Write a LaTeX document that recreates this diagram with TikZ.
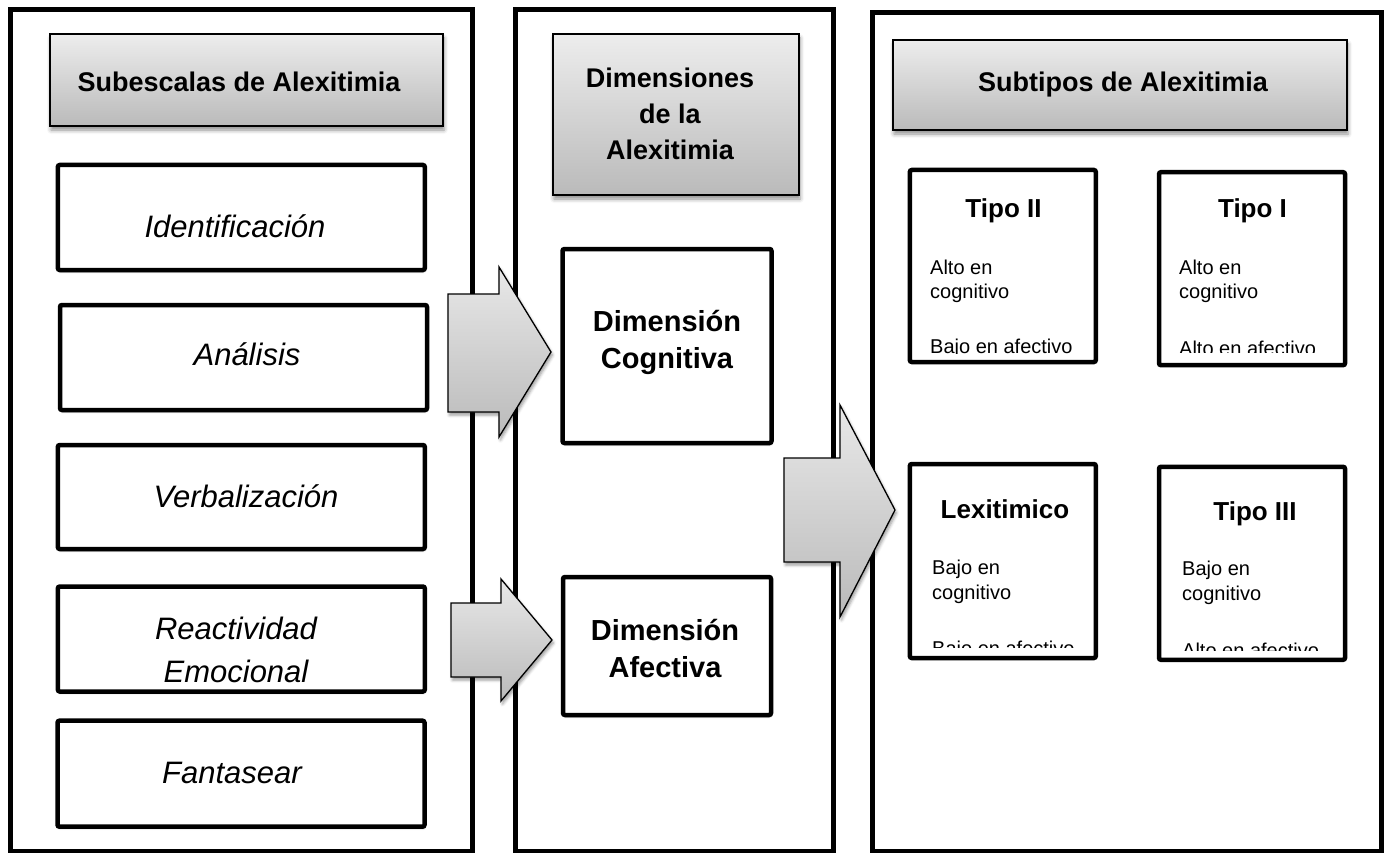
\documentclass[tikz,border=0pt]{standalone}
\usepackage{fontspec}
\setmainfont{Liberation Sans}
\usetikzlibrary{shadows.blur}

\tikzset{
  panel/.style={draw=black, line width=5pt, inner sep=0pt, outer sep=0pt},
  headbox/.style={draw=black, line width=1.2pt, inner sep=0pt, outer sep=0pt,
    top color=black!7, bottom color=black!27,
    blur shadow={shadow xshift=1pt, shadow yshift=-4pt, shadow blur radius=4pt, shadow opacity=45}},
  itembox/.style={draw=black, line width=4.5pt, rounded corners=2pt, inner sep=0pt, outer sep=0pt, fill=white,
    blur shadow={shadow xshift=0.5pt, shadow yshift=-2pt, shadow blur radius=1.5pt, shadow opacity=30}},
  typebox/.style={draw=black, line width=4.5pt, rounded corners=2pt, inner sep=0pt, outer sep=0pt},
  blockarrow/.style={draw=black, line width=1.3pt, line join=miter,
    top color=black!9, bottom color=black!27,
    blur shadow={shadow xshift=1.5pt, shadow yshift=-3pt, shadow blur radius=3pt, shadow opacity=40}},
  headtext/.style={inner sep=0pt, align=center, font=\fontsize{27}{36}\selectfont\bfseries},
  ittext/.style={inner sep=0pt, align=center, font=\fontsize{31}{43}\selectfont\itshape},
  dimtext/.style={inner sep=0pt, align=center, font=\fontsize{29}{37}\selectfont\bfseries},
  typetitle/.style={inner sep=0pt, anchor=base, font=\fontsize{26}{30}\selectfont\bfseries},
  typebody/.style={inner sep=0pt, anchor=base west, font=\fontsize{20}{24}\selectfont},
}

\begin{document}
\begin{tikzpicture}[x=1pt, y=-1pt]
\useasboundingbox (0,0) rectangle (1396,853);

% three column panels
\node[panel, minimum width=462pt, minimum height=841pt] (colA) at (241,430.5) {};
\node[panel, minimum width=318pt, minimum height=841pt] (colB) at (674,430.5) {};
\node[panel, minimum width=509pt, minimum height=838pt] (colC) at (1126.5,432) {};

% column headers
\node[headbox, minimum width=393pt, minimum height=92pt] (headA) at (246.5,80) {};
\node[headtext, anchor=base] (headAtxt) at (239,92) {Subescalas de Alexitimia};
\node[headbox, minimum width=246pt, minimum height=161pt] (headB) at (676,114.5) {};
\node[headtext] (headBtxt) at (670,114) {Dimensiones\\de la\\Alexitimia};
\node[headbox, minimum width=454pt, minimum height=90pt] (headC) at (1120,85) {};
\node[headtext, anchor=base] (headCtxt) at (1123,92) {Subtipos de Alexitimia};

% subscales
\node[itembox, minimum width=367pt, minimum height=105pt] (ident) at (241.3,217.5) {};
\node[ittext, anchor=base] (identtxt) at (235,237) {Identificación};
\node[itembox, minimum width=367pt, minimum height=105pt] (anal) at (243.5,357.5) {};
\node[ittext, anchor=base] (analtxt) at (247,365) {Análisis};
\node[itembox, minimum width=367pt, minimum height=104pt] (verb) at (241.3,497) {};
\node[ittext, anchor=base] (verbtxt) at (246,507) {Verbalización};
\node[itembox, minimum width=367pt, minimum height=105pt] (react) at (241.3,639) {};
\node[ittext] (reacttxt) at (236,650) {Reactividad\\Emocional};
\node[itembox, minimum width=367pt, minimum height=106pt] (fant) at (241,773.7) {};
\node[ittext, anchor=base] (fanttxt) at (232,783) {Fantasear};

% dimensions
\node[itembox, minimum width=209pt, minimum height=194pt] (cogn) at (667,346) {};
\node[dimtext] (cogntxt) at (667,342) {Dimensión\\Cognitiva};
\node[itembox, minimum width=208pt, minimum height=138pt] (afec) at (667,646) {};
\node[dimtext] (afectxt) at (665,648) {Dimensión\\Afectiva};

% subtypes: body text is cut off at the lower part of each box
\begin{scope}
  \clip (912,172) rectangle (1094,353);
  \node[typetitle] (t2title) at (1003.5,217) {Tipo II};
  \node[typebody] (t2a) at (930,274) {Alto en};
  \node[typebody] (t2b) at (930,298) {cognitivo};
  \node[typebody] (t2c) at (930,353) {Bajo en afectivo};
\end{scope}
\begin{scope}
  \clip (1161,174) rectangle (1343,352);
  \node[typetitle] (t1title) at (1252.5,217) {Tipo I};
  \node[typebody] (t1a) at (1179,274) {Alto en};
  \node[typebody] (t1b) at (1179,298) {cognitivo};
  \node[typebody] (t1c) at (1179,355) {Alto en afectivo};
\end{scope}
\begin{scope}
  \clip (912,466) rectangle (1094,647);
  \node[typetitle] (lxtitle) at (1005,518) {Lexitimico};
  \node[typebody] (lxa) at (932,574) {Bajo en};
  \node[typebody] (lxb) at (932,599) {cognitivo};
  \node[typebody] (lxc) at (932,655) {Bajo en afectivo};
\end{scope}
\begin{scope}
  \clip (1161,469) rectangle (1343,650);
  \node[typetitle] (t3title) at (1255,520) {Tipo III};
  \node[typebody] (t3a) at (1182,575) {Bajo en};
  \node[typebody] (t3b) at (1182,600) {cognitivo};
  \node[typebody] (t3c) at (1182,657) {Alto en afectivo};
\end{scope}
\node[typebox, minimum width=186pt, minimum height=192pt] (tipoII) at (1002.8,266) {};
\node[typebox, minimum width=186pt, minimum height=193pt] (tipoI) at (1252,268.7) {};
\node[typebox, minimum width=186pt, minimum height=194pt] (lexi) at (1002.8,561) {};
\node[typebox, minimum width=186pt, minimum height=193pt] (tipoIII) at (1252,563.3) {};

% block arrows over the column borders
\path[blockarrow] (448,294) -- (499,294) -- (499,267) -- (551,352) -- (499,437) -- (499,412) -- (448,412) -- cycle;
\path[blockarrow] (451,603) -- (501,603) -- (501,579) -- (552,640) -- (501,701) -- (501,677) -- (451,677) -- cycle;
\path[blockarrow] (784,458) -- (840,458) -- (840,405) -- (895,510) -- (840,617) -- (840,562) -- (784,562) -- cycle;
\end{tikzpicture}
\end{document}
